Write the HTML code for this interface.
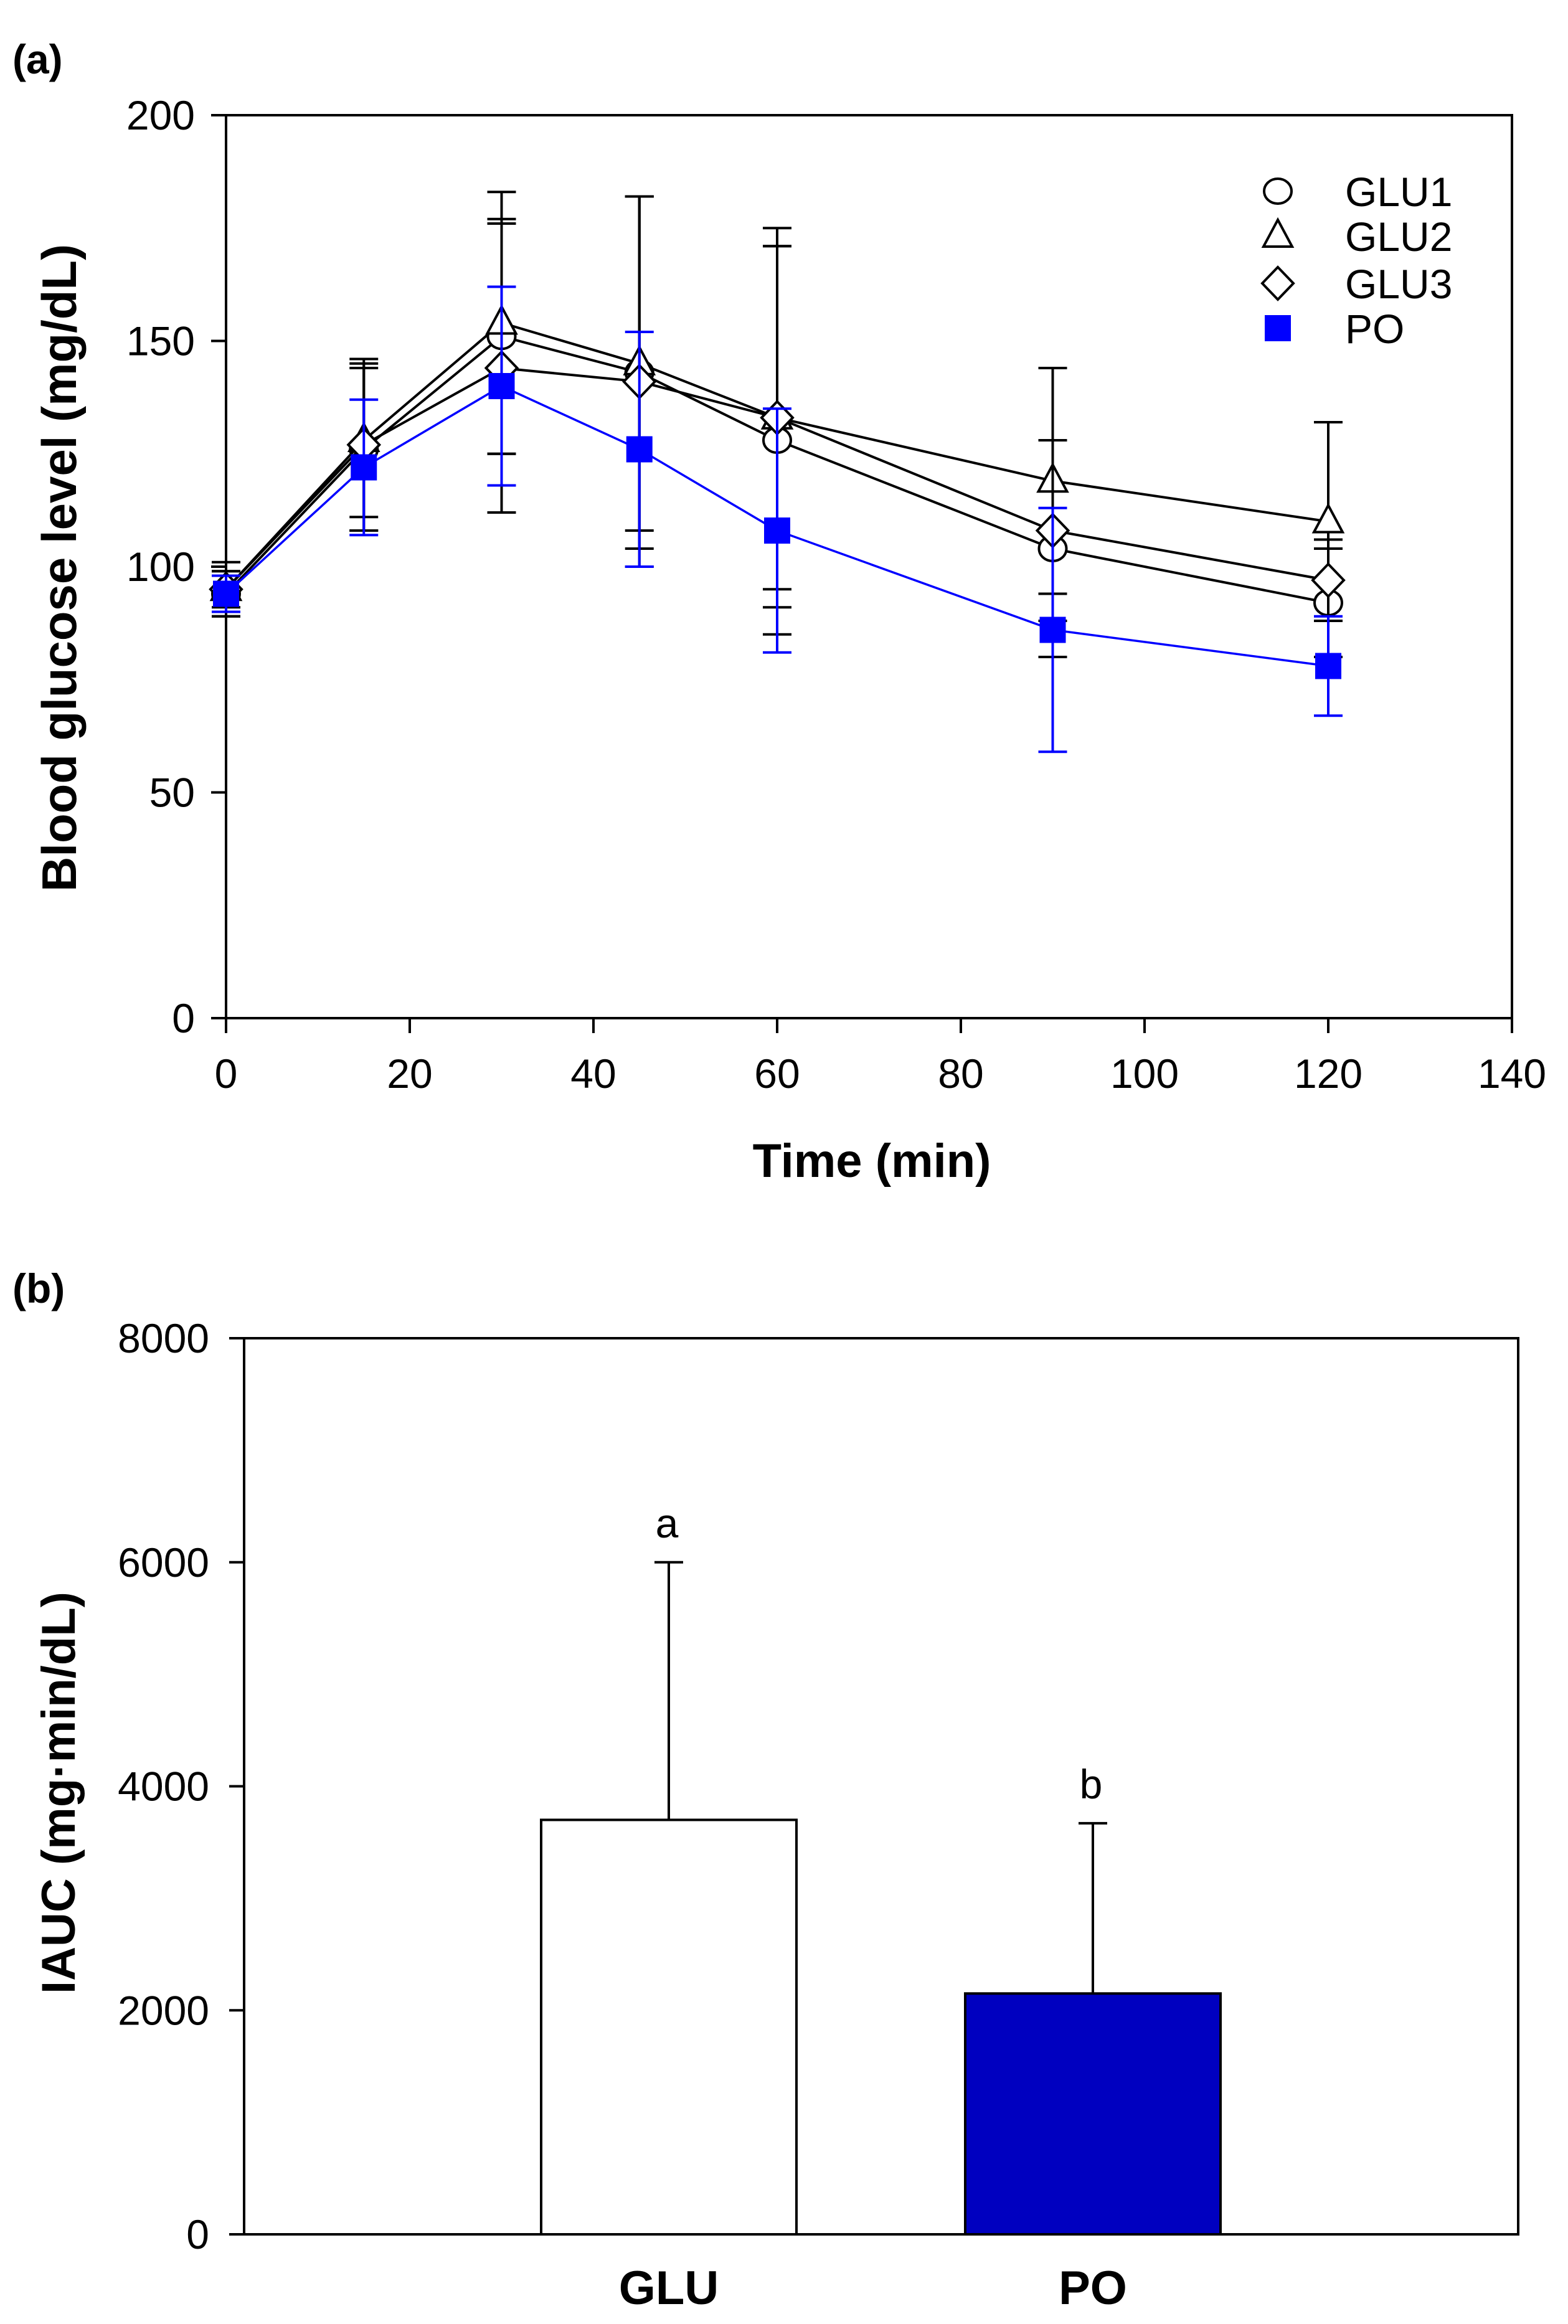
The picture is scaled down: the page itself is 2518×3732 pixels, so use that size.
<!DOCTYPE html>
<html><head><meta charset="utf-8"><style>
html,body{margin:0;padding:0;background:#fff;}
svg{display:block;font-family:"Liberation Sans",Arial,sans-serif;}
</style></head><body>
<svg id="chart" width="2518" height="3732" viewBox="0 0 2518 3732" xmlns="http://www.w3.org/2000/svg">
<g id="pa"></g>
<g id="pb"></g>
</svg>
<script>
const times = [0, 15, 30, 45, 60, 90, 120];
const glu1 = [94, 126, 151, 143, 128, 104, 92];
const glu1Err = [5, 18, 26, 39, 43, 24, 12];
const glu2 = [95, 128, 154, 145, 133, 119, 110];
const glu2Err = [4, 17, 29, 37, 42, 25, 22];
const glu3 = [95, 127, 144, 141, 133, 108, 97];
const glu3Err = [6, 19, 32, 41, 38, 20, 9];
const po = [94, 122, 140, 126, 108, 86, 78];
const poErr = [4, 15, 22, 26, 27, 27, 11];
const xTicksA = [0, 20, 40, 60, 80, 100, 120, 140];
const yTicksA = [0, 50, 100, 150, 200];
const barCats = ["GLU", "PO"];
const barVals = [3700, 2150];
const barErr = [2300, 1520];
const barLetters = ["a", "b"];
const yTicksB = [0, 2000, 4000, 6000, 8000];

const NS = "http://www.w3.org/2000/svg";
function mk(parent, tag, attrs, text) {
  const e = document.createElementNS(NS, tag);
  for (const k in attrs) e.setAttribute(k, attrs[k]);
  if (text !== undefined) e.textContent = text;
  parent.appendChild(e);
  return e;
}
const pa = document.getElementById('pa');
const pb = document.getElementById('pb');

const AL = 363, AR = 2428, AT = 185, AB = 1635;
const ax = v => AL + (v - 0) / 140 * (AR - AL);
const ay = v => AB - v / 200 * (AB - AT);

let t;
t = mk(pa, 'text', {x: 20, y: 118, 'font-size': 66, 'font-weight': 'bold'}, '(a)');



let fr = mk(pa, 'rect', {x: AL, y: AT, width: AR - AL, height: AB - AT, fill: 'none', stroke: '#000', 'stroke-width': 4});



xTicksA.forEach(v => {
  const l = mk(pa, 'line', {x1: ax(v), x2: ax(v), y1: AB, y2: AB + 24, stroke: '#000', 'stroke-width': 4});
  
  
  const tx = mk(pa, 'text', {x: ax(v), y: AB + 112, 'font-size': 66, 'text-anchor': 'middle'}, String(v));
  
  
});
yTicksA.forEach(v => {
  const l = mk(pa, 'line', {x1: AL - 24, x2: AL, y1: ay(v), y2: ay(v), stroke: '#000', 'stroke-width': 4});
  
  
  const tx = mk(pa, 'text', {x: AL - 50, y: ay(v) + 23, 'font-size': 66, 'text-anchor': 'end'}, String(v));
  
  
});
t = mk(pa, 'text', {x: 1400, y: 1890, 'font-size': 76, 'font-weight': 'bold', 'text-anchor': 'middle'}, 'Time (min)');


t = mk(pa, 'text', {x: 0, y: 0, 'font-size': 78, 'font-weight': 'bold', 'text-anchor': 'middle', transform: 'translate(122,912) rotate(-90)'}, 'Blood glucose level (mg/dL)');



const series = [
  {name: 'glu1', vals: glu1, err: glu1Err, color: '#000', marker: 'circle'},
  {name: 'glu2', vals: glu2, err: glu2Err, color: '#000', marker: 'triangle'},
  {name: 'glu3', vals: glu3, err: glu3Err, color: '#000', marker: 'diamond'},
  {name: 'po', vals: po, err: poErr, color: '#0000ff', marker: 'square'}
];

function marker(parent, type, cx, cy) {
  let e;
  if (type === 'circle') e = mk(parent, 'ellipse', {cx: cx, cy: cy, rx: 22, ry: 20, fill: '#fff', stroke: '#000', 'stroke-width': 4});
  else if (type === 'triangle') e = mk(parent, 'polygon', {points: `${cx},${cy-26} ${cx+23},${cy+17} ${cx-23},${cy+17}`, fill: '#fff', stroke: '#000', 'stroke-width': 4});
  else if (type === 'diamond') e = mk(parent, 'polygon', {points: `${cx},${cy-26} ${cx+25},${cy} ${cx},${cy+26} ${cx-25},${cy}`, fill: '#fff', stroke: '#000', 'stroke-width': 4});
  else e = mk(parent, 'rect', {x: cx - 21, y: cy - 21, width: 42, height: 42, fill: '#0000ff'});
  return e;
}

series.forEach(s => {
  const g = mk(pa, 'g', {});
  
  
  times.forEach((tm, i) => {
    const x = ax(tm), yu = ay(s.vals[i] + s.err[i]), yd = ay(s.vals[i] - s.err[i]);
    const eg = mk(g, 'g', {stroke: s.color, 'stroke-width': 4});
    
    
    mk(eg, 'line', {x1: x, x2: x, y1: yu, y2: yd});
    mk(eg, 'line', {x1: x - 23, x2: x + 23, y1: yu, y2: yu});
    mk(eg, 'line', {x1: x - 23, x2: x + 23, y1: yd, y2: yd});
  });
  const pts = times.map((tm, i) => ax(tm) + ',' + ay(s.vals[i])).join(' ');
  const pl = mk(g, 'polyline', {points: pts, fill: 'none', stroke: s.color, 'stroke-width': s.color === '#000' ? 4 : 3.5});
  
  
  times.forEach((tm, i) => {
    const m = marker(g, s.marker, ax(tm), ay(s.vals[i]));
    
    
  });
});

const legLabels = ['GLU1', 'GLU2', 'GLU3', 'PO'];
const legY = [307, 379, 455, 527];
const lg = mk(pa, 'g', {});


legLabels.forEach((lab, i) => {
  const m = marker(lg, series[i].marker, 2052, legY[i]);
  
  
  const tx = mk(lg, 'text', {x: 2160, y: legY[i] + 24, 'font-size': 66}, lab);
  
  
});

const BL = 392, BR = 2438, BT = 2149, BB = 3588;
const by = v => BB - v / 8000 * (BB - BT);
const barX = [869, 1550];
const barW = 410;

t = mk(pb, 'text', {x: 20, y: 2092, 'font-size': 66, 'font-weight': 'bold'}, '(b)');



barCats.forEach((c, i) => {
  const x = barX[i], cx = x + barW / 2;
  const r = mk(pb, 'rect', {x: x, y: by(barVals[i]), width: barW, height: BB - by(barVals[i]), fill: i === 0 ? '#fff' : '#0000c0', stroke: '#000', 'stroke-width': 4});
  
  
  const eg = mk(pb, 'g', {stroke: '#000', 'stroke-width': 4});
  
  
  const yt = by(barVals[i] + barErr[i]);
  mk(eg, 'line', {x1: cx, x2: cx, y1: yt, y2: by(barVals[i])});
  mk(eg, 'line', {x1: cx - 23, x2: cx + 23, y1: yt, y2: yt});
  const lt = mk(pb, 'text', {x: cx - 3, y: yt - 40, 'font-size': 66, 'text-anchor': 'middle'}, barLetters[i]);
  
  
  const cl = mk(pb, 'text', {x: cx, y: 3700, 'font-size': 76, 'font-weight': 'bold', 'text-anchor': 'middle'}, c);
  
  
});

fr = mk(pb, 'rect', {x: BL, y: BT, width: BR - BL, height: BB - BT, fill: 'none', stroke: '#000', 'stroke-width': 4});



yTicksB.forEach(v => {
  const l = mk(pb, 'line', {x1: BL - 24, x2: BL, y1: by(v), y2: by(v), stroke: '#000', 'stroke-width': 4});
  
  
  const tx = mk(pb, 'text', {x: BL - 56, y: by(v) + 23, 'font-size': 66, 'text-anchor': 'end'}, String(v));
  
  
});
t = mk(pb, 'text', {x: 0, y: 0, 'font-size': 76, 'font-weight': 'bold', 'text-anchor': 'middle', transform: 'translate(120,2879) rotate(-90)'}, 'IAUC (mg·min/dL)');


</script>
</body></html>
